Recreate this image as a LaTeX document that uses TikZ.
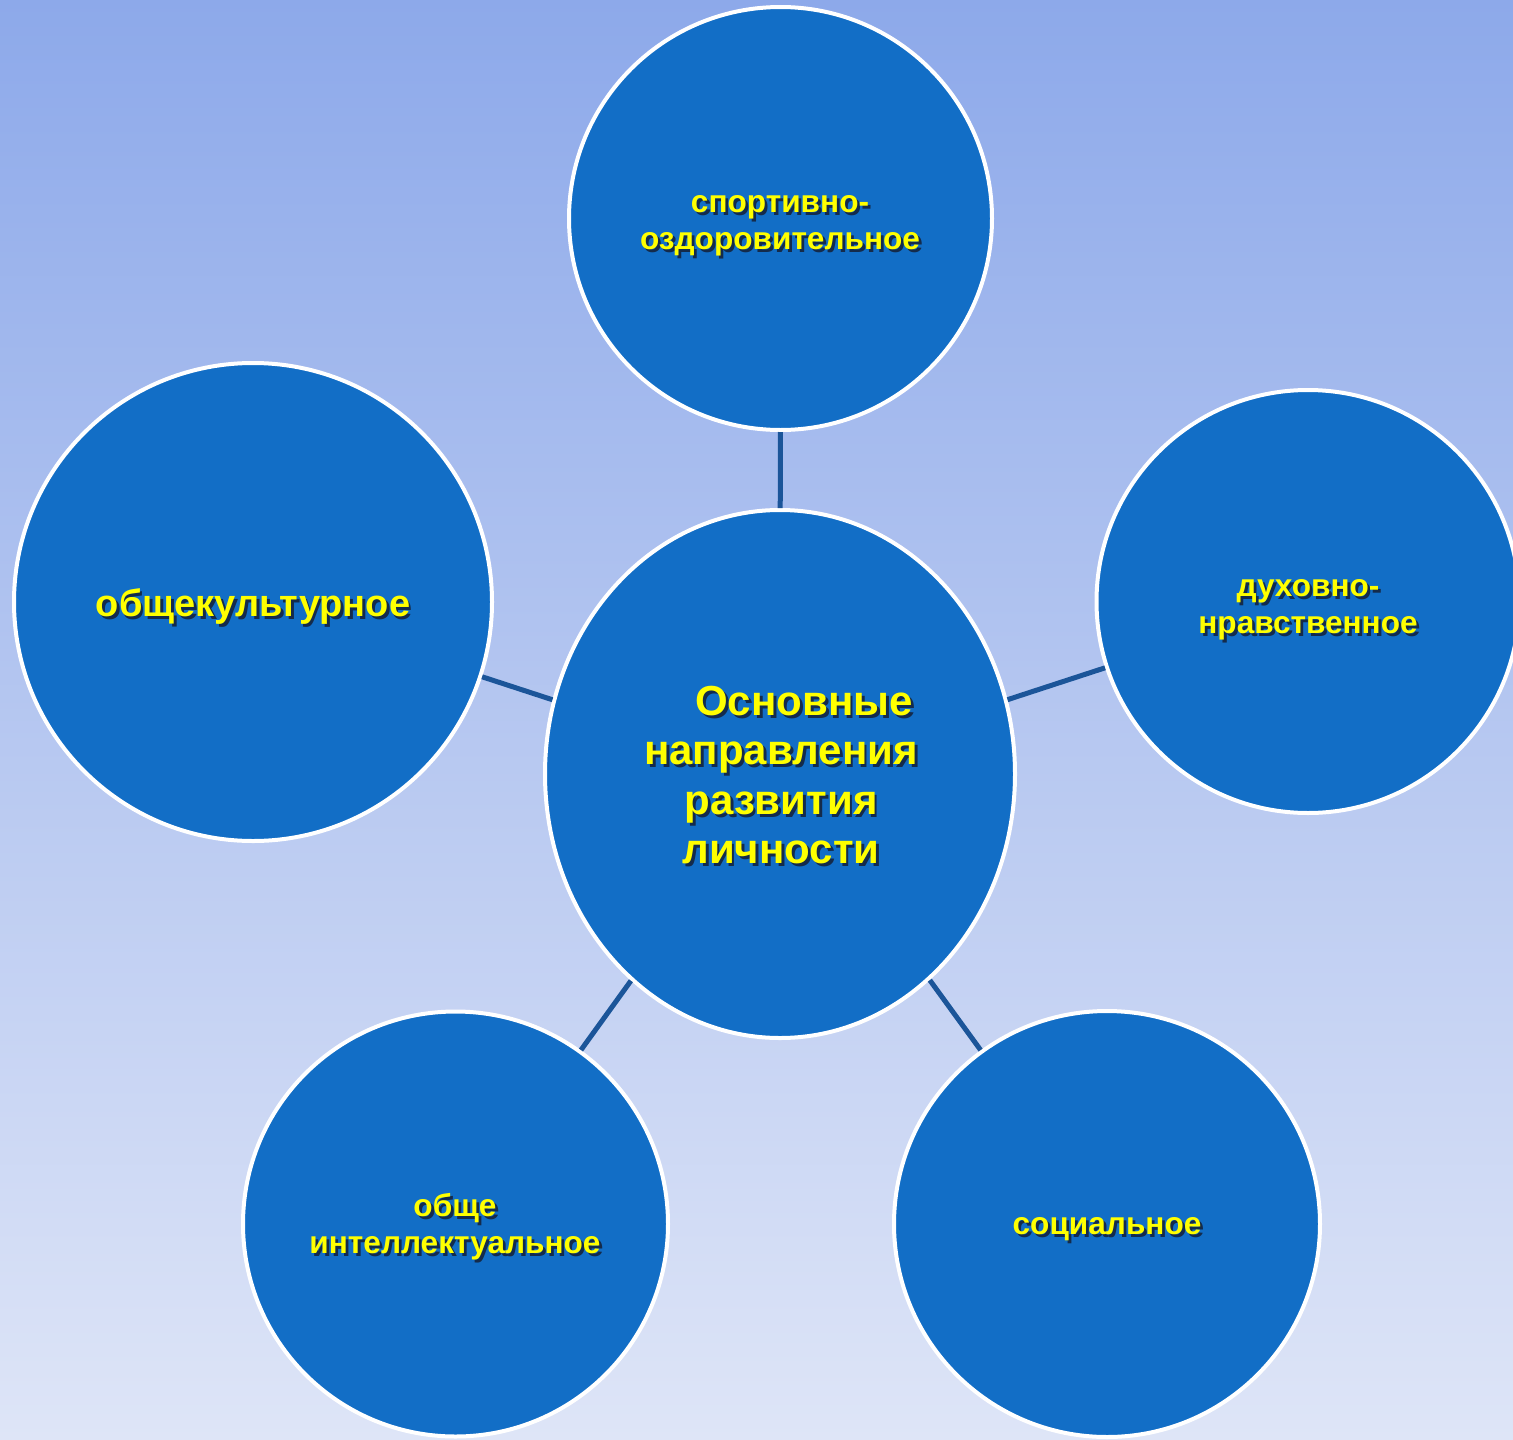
\documentclass[tikz,border=0pt]{standalone}
\usepackage{fontspec}
\setmainfont{Liberation Sans}
\usetikzlibrary{shapes.geometric}
\definecolor{bgtop}{HTML}{8DA9EA}
\definecolor{bgbot}{HTML}{DEE5F7}
\definecolor{discfill}{HTML}{126EC6}
\definecolor{linkcol}{HTML}{1B5599}
\definecolor{txtyellow}{HTML}{FFFF00}
\definecolor{shadowcol}{HTML}{141C30}
\colorlet{shadowhard}{shadowcol!82!discfill}
% text with a drop shadow, one line at a time
\newcommand\shtxt[1]{\leavevmode
  \rlap{\kern2.8pt\raisebox{-2.8pt}{\color{shadowhard}#1}}%
  #1}
\begin{document}
\begin{tikzpicture}[x=1pt,y=-1pt,
  disc/.style={circle,fill=discfill,draw=white,line width=4pt,minimum size=#1,inner sep=0pt},
  bigdisc/.style={ellipse,fill=discfill,draw=white,line width=4pt,minimum width=470pt,minimum height=528pt,inner sep=0pt},
  link/.style={draw=linkcol,line width=5pt},
  lbl/.style={align=center,inner sep=0pt,text=txtyellow,font=\bfseries\fontsize{31.6}{37}\selectfont},
  lblbig/.style={lbl,font=\bfseries\fontsize{38}{45}\selectfont},
  lblmain/.style={lbl,font=\bfseries\fontsize{42}{49.5}\selectfont}
]
\useasboundingbox (0,0) rectangle (1513,1440);
\shade[top color=bgtop,bottom color=bgbot] (0,0) rectangle (1513,1440);

% discs
\node[disc=423pt] (top) at (780.5,218.5) {};
\node[bigdisc] (mid) at (780,774) {};
\node[disc=478pt] (left) at (253,602) {};
\node[disc=423pt] (right) at (1308,601.5) {};
\node[disc=425pt] (bl) at (455.5,1224) {};
\node[disc=426pt] (br) at (1107,1224) {};

% connectors
\draw[link] (top) -- (mid);
\draw[link] (left) -- (mid);
\draw[link] (right) -- (mid);
\draw[link] (bl) -- (mid);
\draw[link] (br) -- (mid);

% labels
\node[lbl] (topt) at (780,227.5) {\shtxt{спортивно-}\\\shtxt{оздоровительное}};
\node[lblbig] (leftt) at (253,608) {\shtxt{общекультурное}};
\node[lbl] (rightt) at (1308,611.5) {\shtxt{духовно-}\\\shtxt{нравственное}};
\node[lbl] (blt) at (455,1228) {\shtxt{обще}\\\shtxt{интеллектуальное}};
\node[lbl] (brt) at (1107,1231) {\shtxt{социальное}};
\node[lblmain] (midt) at (781,776.5) {\hspace*{46pt}\shtxt{Основные}\\\shtxt{направления}\\\shtxt{развития}\\\shtxt{личности}};
\end{tikzpicture}
\end{document}
